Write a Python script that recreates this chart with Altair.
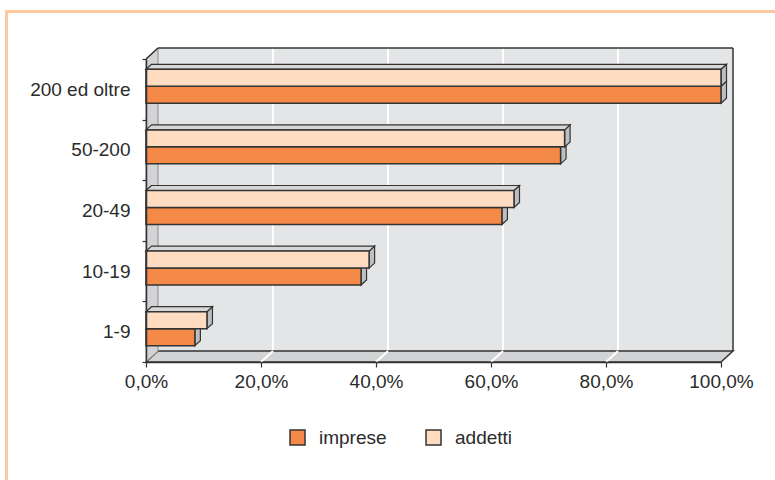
import altair as alt
import pandas as pd

# ---------------- data ----------------
categories = ["1-9", "10-19", "20-49", "50-200", "200 ed oltre"]
series = ["imprese", "addetti"]
imprese = [8.5, 37.4, 61.9, 72.1, 100.0]
addetti = [10.6, 38.8, 64.0, 72.8, 100.0]
x_ticks = [0, 20, 40, 60, 80, 100]
grid_ticks = [20, 40, 60, 80]

# ---------------- style ----------------
ORANGE = "#F58A48"
PEACH = "#FDDCC2"
BACK = "#E4E5E7"
SIDEWALL = "#D2D3D5"
FACE_TOP = "#D6D7D9"
FACE_SIDE = "#BEBFC1"
DARK = "#333333"
FRAME = "#FFC9A0"
FONT = "Liberation Sans"
FS = 19

W, H = 575, 303
XMAX = 100.0
YMAX = float(len(categories))
PX_X = XMAX / W          # data units per pixel (x)
PX_Y = YMAX / H          # data units per pixel (y)
DXW, DYW = 12 * PX_X, 11 * PX_Y      # wall depth
BDX, BDY = 5.5 * PX_X, 5 * PX_Y      # bar depth
SLOT = {"imprese": (0.27, 0.55), "addetti": (0.55, 0.83)}

# ---------------- tables ----------------
bars, sides, tops = [], [], []
for s, vals in (("imprese", imprese), ("addetti", addetti)):
    lo, hi = SLOT[s]
    for i, (c, v) in enumerate(zip(categories, vals)):
        key = f"{s}-{c}"
        bars.append({"series": s, "cat": c, "x0": 0.0, "x1": v, "y0": i + lo, "y1": i + hi})
        sides.append({"key": key, "xx": v, "ya": i + lo, "yb": i + hi})
        sides.append({"key": key, "xx": v + BDX, "ya": i + lo + BDY, "yb": i + hi + BDY})
        if s == "addetti":
            tops.append({"key": key, "yy": i + hi, "xa": 0.0, "xb": v})
            tops.append({"key": key, "yy": i + hi + BDY, "xa": BDX, "xb": v + BDX})
bars_df = pd.DataFrame(bars)
sides_df = pd.DataFrame(sides)
tops_df = pd.DataFrame(tops)

back_df = pd.DataFrame([{"xa": DXW, "xb": XMAX + DXW, "ya": DYW, "yb": YMAX + DYW}])
floor_df = pd.DataFrame([
    {"xx": 0.0, "ya": 0.0, "yb": 0.0},
    {"xx": DXW, "ya": 0.0, "yb": DYW},
    {"xx": XMAX, "ya": 0.0, "yb": DYW},
    {"xx": XMAX + DXW, "ya": DYW, "yb": DYW},
])
left_df = pd.DataFrame([
    {"yy": 0.0, "xa": 0.0, "xb": 0.0},
    {"yy": DYW, "xa": 0.0, "xb": DXW},
    {"yy": YMAX, "xa": 0.0, "xb": DXW},
    {"yy": YMAX + DYW, "xa": DXW, "xb": DXW},
])
grid_df = pd.DataFrame([{"g": g, "gb": g + DXW, "ya": 0.0, "yb": DYW, "yt": YMAX + DYW} for g in grid_ticks])
edges_df = pd.DataFrame([
    {"xa": DXW, "xb": XMAX + DXW, "ya": YMAX + DYW, "yb": YMAX + DYW},   # back top
    {"xa": XMAX + DXW, "xb": XMAX + DXW, "ya": DYW, "yb": YMAX + DYW},   # back right
    {"xa": 0.0, "xb": DXW, "ya": YMAX, "yb": YMAX + DYW},                # top-left diagonal
])

# ---------------- scales / axes ----------------
XS = alt.Scale(domain=[0, XMAX], nice=False, zero=False)
YS = alt.Scale(domain=[0, YMAX], nice=False, zero=False)
label_list = "[" + ",".join(f"'{c}'" for c in categories) + ",'']"
X_AXIS = alt.Axis(
    values=x_ticks, title=None, grid=False, labelFlush=False, labelOverlap=False,
    labelExpr="replace(format(datum.value, '.1f'), '.', ',') + '%'",
    tickSize=5, tickColor=DARK, domainColor=DARK, domainWidth=1.5, tickWidth=1.2,
    labelFont=FONT, labelFontSize=FS, labelColor="#2b2b2b", labelPadding=5, zindex=2,
)
Y_AXIS = alt.Axis(
    values=list(range(len(categories) + 1)), title=None, grid=False, labelFlush=False,
    labelOverlap=False, labelExpr=f"{label_list}[datum.value]", labelOffset=-H / YMAX / 2,
    tickSize=4, tickColor=DARK, domainColor=DARK, domainWidth=1.5, tickWidth=1.2,
    labelFont=FONT, labelFontSize=FS, labelColor="#2b2b2b", labelPadding=12, zindex=2,
)


def X(f):
    return alt.X(f, type="quantitative", scale=XS, axis=X_AXIS, stack=None)


def Y(f):
    return alt.Y(f, type="quantitative", scale=YS, axis=Y_AXIS, stack=None)


back = alt.Chart(back_df).mark_rect(fill=BACK, strokeWidth=0).encode(
    x=X("xa"), x2="xb", y=Y("ya"), y2="yb")

grid_back = alt.Chart(grid_df).mark_rule(color="white", strokeWidth=2).encode(
    x=X("gb"), y=Y("yb"), y2="yt")

floor = alt.Chart(floor_df).mark_area(fill=SIDEWALL, stroke=DARK, strokeWidth=1.5, opacity=1).encode(
    x=X("xx"), y=Y("ya"), y2="yb")

grid_floor = alt.Chart(grid_df).mark_rule(color="white", strokeWidth=2).encode(
    x=X("g"), x2="gb", y=Y("ya"), y2="yb")

leftwall = alt.Chart(left_df).mark_area(fill=SIDEWALL, stroke="#8a8b8d", strokeWidth=1, opacity=1,
                                        orient="horizontal").encode(
    y=Y("yy"), x=X("xa"), x2="xb")

edges = alt.Chart(edges_df).mark_rule(color=DARK, strokeWidth=1.5).encode(
    x=X("xa"), x2="xb", y=Y("ya"), y2="yb")

side_faces = alt.Chart(sides_df).mark_area(fill=FACE_SIDE, stroke=DARK, strokeWidth=1.2, opacity=1).encode(
    x=X("xx"), y=Y("ya"), y2="yb", detail="key:N")

top_faces = alt.Chart(tops_df).mark_area(fill=FACE_TOP, stroke=DARK, strokeWidth=1.2, opacity=1,
                                         orient="horizontal").encode(
    y=Y("yy"), x=X("xa"), x2="xb", detail="key:N")

front = alt.Chart(bars_df).mark_rect(stroke=DARK, strokeWidth=1.5, opacity=1).encode(
    x=X("x0"), x2="x1", y=Y("y0"), y2="y1",
    color=alt.Color("series:N", scale=alt.Scale(domain=series, range=[ORANGE, PEACH]),
                    legend=alt.Legend(
                        orient="none", legendX=142, legendY=369, direction="horizontal",
                        title=None, symbolType="square", symbolSize=225,
                        symbolStrokeColor=DARK, symbolStrokeWidth=1.5, symbolOpacity=1,
                        labelFont=FONT, labelFontSize=FS, labelColor="#2b2b2b",
                        labelOffset=12, columnPadding=36, padding=0)),
)

frame = alt.Chart(alt.Data(values=[{}])).mark_rect(fill=None, stroke=FRAME, strokeWidth=3).encode(
    x=alt.value(-139.5), x2=alt.value(700), y=alt.value(-47.5), y2=alt.value(500))

chart = alt.layer(
    frame, back, grid_back, floor, grid_floor, leftwall, edges, side_faces, top_faces, front
).properties(
    width=W, height=H,
    padding={"left": 146, "top": 59, "right": 54, "bottom": 118},
    autosize=alt.AutoSizeParams(type="none"),
    background="white",
).configure_view(stroke=None)

chart.save("out.html", embed_options={"renderer": "svg", "actions": False})
